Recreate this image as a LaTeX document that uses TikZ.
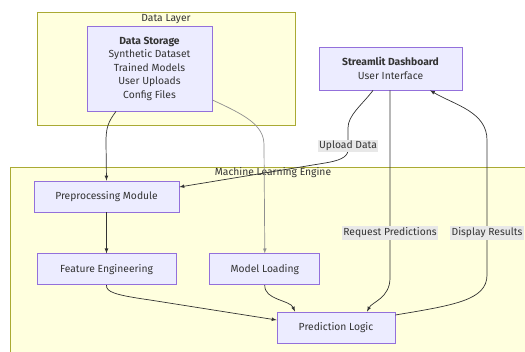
\documentclass[tikz,border=0pt]{standalone}
\usepackage{xcolor}
\usepackage{fontspec}
\setmainfont{Fira Sans}
\usetikzlibrary{positioning}

\definecolor{nodefill}{HTML}{ECECFF}
\definecolor{nodeline}{HTML}{9370DB}
\definecolor{groupfill}{HTML}{FFFFDE}
\definecolor{groupline}{HTML}{AAAA33}
\definecolor{ink}{HTML}{333333}
\definecolor{lblfill}{HTML}{E8E8E8}

\begin{document}
\begin{tikzpicture}[
    x=1pt, y=-1pt,
    node distance=41pt and 33pt,
    every node/.style={font=\fontsize{10.3}{13.5}\selectfont, text=ink},
    module/.style={rectangle, draw=nodeline, fill=nodefill, line width=0.8pt, align=center, inner sep=0pt, minimum height=31pt},
    group/.style={rectangle, draw=groupline, fill=groupfill, line width=0.8pt, inner sep=0pt, anchor=north west},
    flow/.style={-latex, draw=ink, line width=0.7pt},
    lbl/.style={fill=lblfill, inner sep=1.5pt}
]
\useasboundingbox (0,0) rectangle (525,352);
\clip (0,0) rectangle (525,352);

% Subgraph frames
\node (datalayer) [group, minimum width=258pt, minimum height=113pt] at (37,12) {};
\node (mlengine) [group, minimum width=530pt, minimum height=200pt] at (10,167) {};
\node (dltitle) at (166,19) {Data Layer};
\node (mltitle) at (273,173) {Machine Learning Engine};

% Storage and dashboard
\node (store) [module, minimum width=125pt, minimum height=85pt] at (149.5,68.5) {\textbf{Data Storage}\\Synthetic Dataset\\Trained Models\\User Uploads\\Config Files};
\node (ui) [module, minimum width=143pt, minimum height=43pt] at (390.5,68.5) {\textbf{Streamlit Dashboard}\\User Interface};

% ML engine modules
\node (pre) [module, minimum width=145pt] at (106.5,196.5) {Preprocessing Module};
\node (feat) [module, minimum width=139pt, below=41pt of pre] {Feature Engineering};
\node (load) [module, minimum width=110pt, right=33pt of feat] {Model Loading};
\node (pred) [module, minimum width=118pt] at (336,327.5) {Prediction Logic};

% Data flow from storage
\draw [flow] (store.south -| 116,0) .. controls (108,122) and (106,128) .. (106,142) -- (pre.north);
\draw [flow, draw=ink!55] (store.east |- 0,100) .. controls (245,115) and (264,125) .. (264,145) -- (load.north);

% Dashboard interaction
\draw [flow] (ui.south -| 373,0) .. controls (362,105) and (348,115) .. (348,128) -- (348,146) node[lbl] {Upload Data} -- (348,150) .. controls (348,158) and (337,161) .. (325,163) -- (pre.east |- 0,187);
\draw [flow] (ui.south -| 390,0) -- (390,233) node[lbl] {Request Predictions} -- (390,278) .. controls (390,298) and (372,302) .. (pred.north -| 367,0);
\draw [flow] (pred.east |- 0,315) .. controls (455,305) and (487,300) .. (487,275) -- (487,233) node[lbl] {Display Results} -- (487,140) .. controls (487,112) and (455,105) .. (ui.south -| 430,0);

% Inside the engine
\draw [flow] (pre.south) -- (feat.north);
\draw [flow] (feat.south) .. controls (106,292) and (115,295) .. (150,300) -- (pred.west |- 0,320);
\draw [flow] (load.south) .. controls (264,300) and (290,300) .. (pred.north -| 295,0);

\end{tikzpicture}
\end{document}
